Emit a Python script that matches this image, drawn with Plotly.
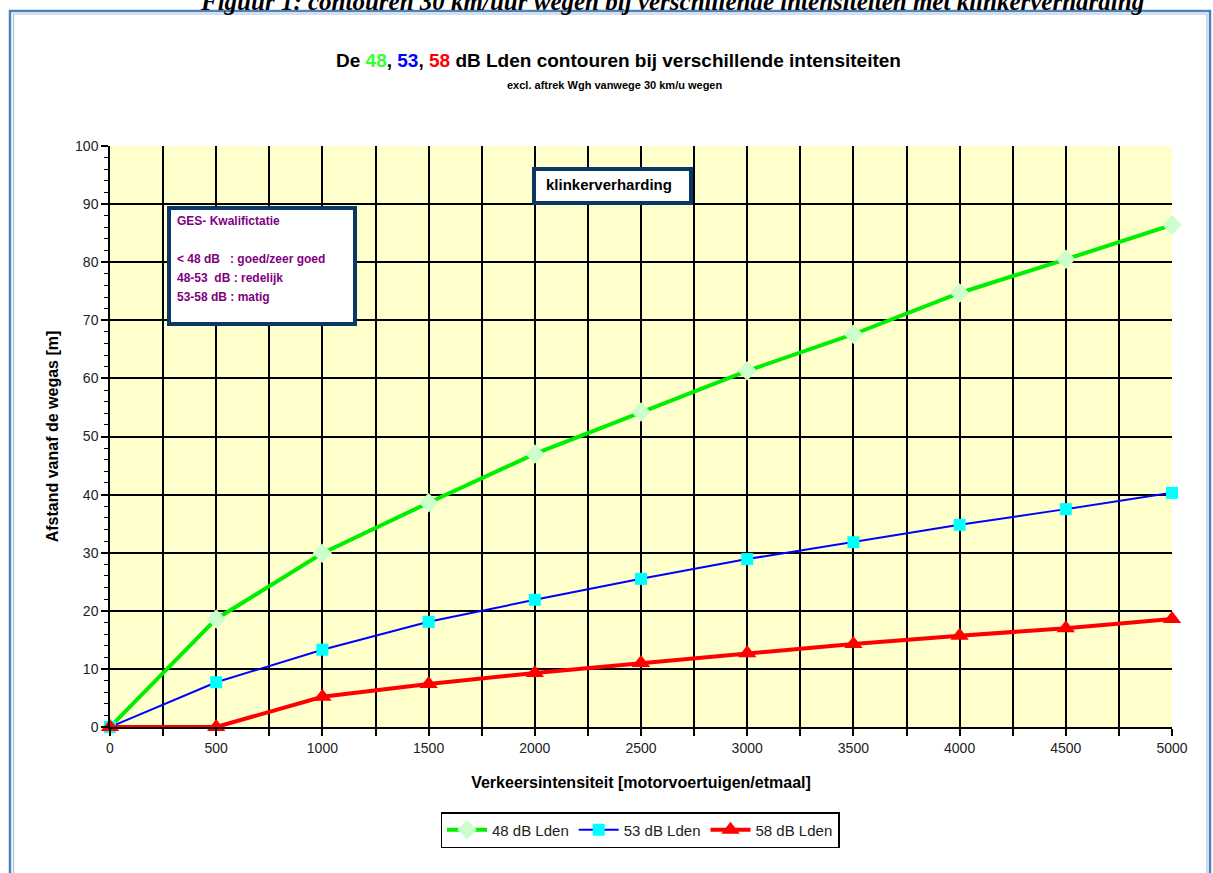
import plotly.graph_objects as go

intensiteit = [0, 500, 1000, 1500, 2000, 2500, 3000, 3500, 4000, 4500, 5000]
lden48 = [0, 18.6, 29.9, 38.6, 47.0, 54.2, 61.3, 67.6, 74.7, 80.5, 86.4]
lden53 = [0, 7.7, 13.3, 18.1, 21.9, 25.5, 28.9, 31.8, 34.8, 37.5, 40.3]
lden58 = [0, 0, 5.2, 7.4, 9.3, 11.0, 12.7, 14.3, 15.7, 17.0, 18.6]
series_names = ["48 dB Lden", "53 dB Lden", "58 dB Lden"]

FONT = "Liberation Sans, Arial, sans-serif"

fig = go.Figure()
fig.add_trace(go.Scatter(x=intensiteit, y=lden48, name=series_names[0], mode="lines+markers",
                         line=dict(color="#00ee00", width=4),
                         marker=dict(symbol="diamond", size=15, color="#ccffcc"),
                         cliponaxis=False))
fig.add_trace(go.Scatter(x=intensiteit, y=lden53, name=series_names[1], mode="lines+markers",
                         line=dict(color="#0000ff", width=2),
                         marker=dict(symbol="square", size=12, color="#00ffff"),
                         cliponaxis=False))
fig.add_trace(go.Scatter(x=intensiteit, y=lden58, name=series_names[2], mode="lines+markers",
                         line=dict(color="#ff0000", width=4),
                         marker=dict(symbol="triangle-up", size=16, color="#ff0000"),
                         cliponaxis=False))

L, R, T, B = 110, 41, 146, 146
W, H = 1213, 873
pw, ph = W - L - R, H - T - B


def px(x):
    return (x - L) / pw


def py(y):
    return (H - B - y) / ph


shapes = [
    # outer frame
    dict(type="rect", xref="paper", yref="paper", x0=px(10), x1=px(1210), y0=py(900), y1=py(11),
         line=dict(color="#4f81bd", width=2.5), fillcolor="rgba(0,0,0,0)", layer="above"),
    dict(type="rect", xref="paper", yref="paper", x0=px(13.5), x1=px(1207), y0=py(900), y1=py(14),
         line=dict(color="#a7c0de", width=1.2), fillcolor="rgba(0,0,0,0)", layer="above"),
    # GES box
    dict(type="rect", xref="paper", yref="paper", x0=px(169), x1=px(355), y0=py(324), y1=py(208),
         line=dict(color="#0b3768", width=4), fillcolor="white", layer="above"),
    # klinker box
    dict(type="rect", xref="paper", yref="paper", x0=px(534), x1=px(691), y0=py(203), y1=py(169),
         line=dict(color="#0b3768", width=4), fillcolor="white", layer="above"),
]

GES = dict(family=FONT, size=12, color="#800080")
annotations = [
    dict(text="<b><i>Figuur 1: contouren 30 km/uur wegen bij verschillende intensiteiten met klinkerverharding</i></b>",
         xref="paper", yref="paper", x=px(1146), y=py(17), xanchor="right", yanchor="bottom",
         showarrow=False, font=dict(family="Liberation Serif, Times New Roman, serif", size=25, color="black")),
    dict(text="<b>De <span style='color:#33ff33'>48</span>, <span style='color:#0000ff'>53</span>, "
              "<span style='color:#ff0000'>58</span> dB Lden contouren bij verschillende intensiteiten</b>",
         xref="paper", yref="paper", x=px(618), y=py(60), xanchor="center", yanchor="middle",
         showarrow=False, font=dict(family=FONT, size=19, color="black")),
    dict(text="<b>excl. aftrek Wgh vanwege 30 km/u wegen</b>",
         xref="paper", yref="paper", x=px(614), y=py(85), xanchor="center", yanchor="middle",
         showarrow=False, font=dict(family=FONT, size=11, color="black")),
    dict(text="<b>klinkerverharding</b>",
         xref="paper", yref="paper", x=px(609), y=py(184), xanchor="center", yanchor="middle",
         showarrow=False, font=dict(family=FONT, size=15, color="black")),
    dict(text="<b>GES- Kwalifictatie</b>", xref="paper", yref="paper", x=px(175), y=py(221),
         xanchor="left", yanchor="middle", showarrow=False, font=GES),
    dict(text="<b>&lt; 48 dB   : goed/zeer goed</b>", xref="paper", yref="paper", x=px(175), y=py(259),
         xanchor="left", yanchor="middle", showarrow=False, font=GES),
    dict(text="<b>48-53  dB : redelijk</b>", xref="paper", yref="paper", x=px(175), y=py(278),
         xanchor="left", yanchor="middle", showarrow=False, font=GES),
    dict(text="<b>53-58 dB : matig</b>", xref="paper", yref="paper", x=px(175), y=py(297),
         xanchor="left", yanchor="middle", showarrow=False, font=GES),
]

fig.update_layout(
    width=W, height=H,
    margin=dict(l=L, r=R, t=T, b=B, pad=0),
    paper_bgcolor="white",
    plot_bgcolor="#ffffcc",
    font=dict(family=FONT, size=13, color="#222222"),
    shapes=shapes,
    annotations=annotations,
    showlegend=True,
    legend=dict(orientation="h", xanchor="center", x=px(640), yanchor="middle", y=py(830),
                bordercolor="black", borderwidth=1.5, bgcolor="white",
                font=dict(family=FONT, size=15, color="#222222"),
                itemwidth=40, tracegroupgap=0),
)

fig.update_xaxes(
    range=[0, 5000], dtick=500, tick0=0,
    showgrid=True, gridcolor="black", gridwidth=1.5,
    ticks="outside", ticklen=7, tickcolor="black", tickwidth=1.5,
    showline=True, linecolor="black", linewidth=1.5,
    zeroline=False,
    minor=dict(dtick=250, showgrid=True, gridcolor="black", gridwidth=1.5,
               ticks="outside", ticklen=7, tickcolor="black", tickwidth=1.5),
    tickfont=dict(family=FONT, size=14, color="#222222"),
    title=dict(text="<b>Verkeersintensiteit [motorvoertuigen/etmaal]</b>", standoff=22,
               font=dict(family=FONT, size=16, color="black")),
)
fig.update_yaxes(
    range=[0, 100], dtick=10, tick0=0,
    showgrid=True, gridcolor="black", gridwidth=1.5,
    ticks="outside", ticklen=7, tickcolor="black", tickwidth=1.5,
    showline=True, linecolor="black", linewidth=1.5,
    zeroline=False,
    minor=dict(dtick=2, showgrid=False, ticks="outside", ticklen=4, tickcolor="black", tickwidth=1.2),
    tickfont=dict(family=FONT, size=14, color="#222222"),
    title=dict(text="<b>Afstand vanaf de wegas [m]</b>", standoff=12,
               font=dict(family=FONT, size=16, color="black")),
)

fig.write_html("out.html", config={"displayModeBar": False},
               post_script="document.body.style.margin='0px';")
